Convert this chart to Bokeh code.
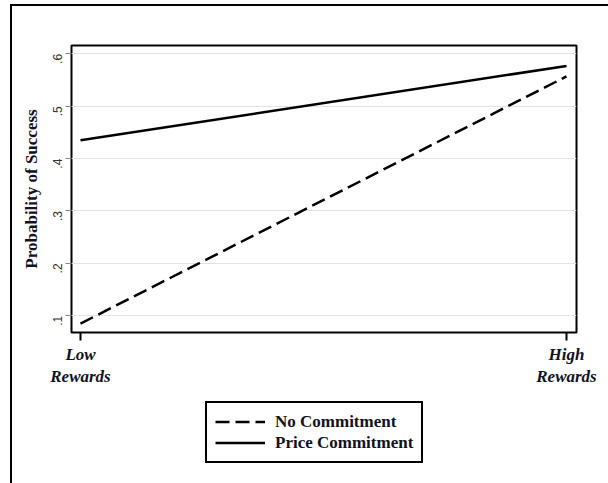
import numpy as np
from bokeh.plotting import figure
from bokeh.layouts import column
from bokeh.models import Legend, LegendItem, FixedTicker, Range1d
from bokeh.embed import file_html
from bokeh.resources import INLINE

# Data
x_pos = [0, 1]
x_labels = ["Low\nRewards", "High\nRewards"]
no_commitment = [0.085, 0.557]
price_commitment = [0.435, 0.577]
y_ticks = [0.1, 0.2, 0.3, 0.4, 0.5, 0.6]
y_tick_labels = [".1", ".2", ".3", ".4", ".5", ".6"]
series_names = ["No Commitment", "Price Commitment"]

SERIF = "Liberation Serif"
TXT = "#111122"

p = figure(width=608, height=395, output_backend="svg", toolbar_location=None,
           x_range=(-0.0185, 1.0206), y_range=(0.068, 0.616),
           min_border_left=71, min_border_right=32, min_border_top=45, min_border_bottom=63)

p.border_fill_color = None
p.background_fill_color = "white"
p.styles = {
    "background-color": "white",
    "background-image": "linear-gradient(#000,#000), linear-gradient(#000,#000)",
    "background-size": "2px 100%, 100% 2px",
    "background-position": "10px 4px, 10px 4px",
    "background-repeat": "no-repeat",
}
p.outline_line_color = "black"
p.outline_line_width = 2

NC_STYLE = dict(line_color="black", line_width=2.5, line_dash="14 6")
PC_STYLE = dict(line_color="black", line_width=2.5)

p.line(x_pos, no_commitment, **NC_STYLE)
p.line(x_pos, price_commitment, **PC_STYLE)

# Y axis
ya = p.yaxis[0]
ya.ticker = FixedTicker(ticks=y_ticks)
ya.major_label_overrides = {t: l for t, l in zip(y_ticks, y_tick_labels)}
ya.major_label_orientation = 1.5708
ya.major_label_text_font = "Liberation Sans"
ya.major_label_text_font_size = "12px"
ya.major_label_text_color = "#333333"
ya.major_label_standoff = 8
ya.major_tick_out = 6
ya.major_tick_in = 0
ya.major_tick_line_color = "#888888"
ya.minor_tick_line_color = None
ya.axis_line_color = None
ya.axis_label = "Probability of Success"
ya.axis_label_text_font = SERIF
ya.axis_label_text_font_style = "bold"
ya.axis_label_text_font_size = "17px"
ya.axis_label_text_color = TXT
ya.axis_label_standoff = 5

# X axis
xa = p.xaxis[0]
xa.ticker = FixedTicker(ticks=x_pos)
xa.major_label_overrides = {t: l for t, l in zip(x_pos, x_labels)}
xa.major_label_text_font = SERIF
xa.major_label_text_font_style = "bold italic"
xa.major_label_text_font_size = "17px"
xa.major_label_text_color = TXT
xa.major_label_text_line_height = 1.2
xa.major_label_standoff = 4
xa.major_tick_out = 8
xa.major_tick_in = 0
xa.major_tick_line_width = 2
xa.major_tick_line_color = "black"
xa.minor_tick_line_color = None
xa.axis_line_color = None

p.xgrid.grid_line_color = None
p.ygrid.ticker = FixedTicker(ticks=y_ticks)
p.ygrid.grid_line_color = "#e3e3e3"
p.ygrid.grid_line_width = 1

# Legend panel (separate figure below the chart; key renderers carry no visible geometry)
q = figure(width=608, height=88, output_backend="svg", toolbar_location=None,
           x_range=Range1d(0, 1), y_range=Range1d(0, 1),
           x_axis_location=None, y_axis_location=None,
           min_border_left=71, min_border_right=32, min_border_top=0, min_border_bottom=0)
q.grid.visible = False
q.outline_line_color = None
q.border_fill_color = None
q.background_fill_color = None
q.styles = {
    "background-color": "white",
    "background-image": "linear-gradient(#000,#000)",
    "background-size": "2px 100%",
    "background-position": "10px 0px",
    "background-repeat": "no-repeat",
}
k_nc = q.line(np.array([np.nan]), np.array([np.nan]), **NC_STYLE)
k_pc = q.line(np.array([np.nan]), np.array([np.nan]), **PC_STYLE)

legend = Legend(items=[LegendItem(label=series_names[0], renderers=[k_nc]),
                       LegendItem(label=series_names[1], renderers=[k_pc])],
                location=(134, 20))
legend.label_text_font = SERIF
legend.label_text_font_style = "bold"
legend.label_text_font_size = "17px"
legend.label_text_color = TXT
legend.label_height = 21
legend.glyph_height = 21
legend.glyph_width = 50
legend.label_standoff = 10
legend.padding = 8
legend.spacing = 0
legend.margin = 0
legend.border_line_color = "black"
legend.border_line_alpha = 1.0
legend.border_line_width = 2
legend.background_fill_alpha = 1
q.add_layout(legend, "center")

layout = column(p, q, spacing=0)
open("out.html", "w").write(file_html(layout, INLINE))
